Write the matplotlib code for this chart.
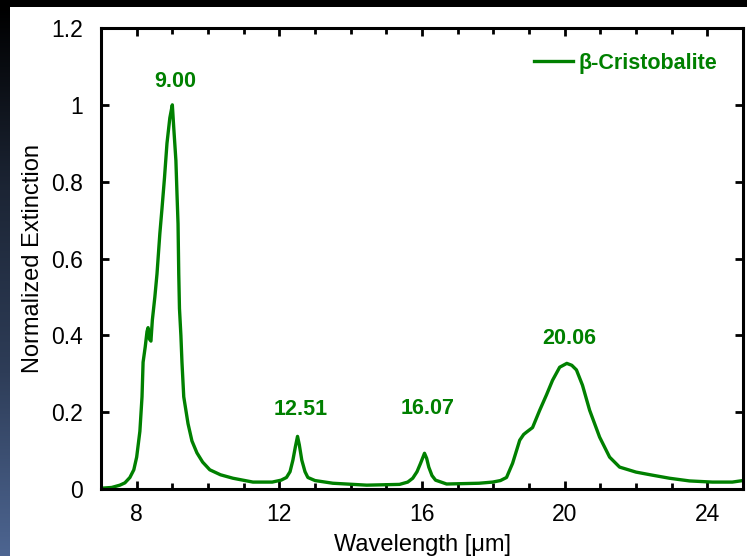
import numpy as np
import matplotlib.pyplot as plt
from matplotlib.colors import LinearSegmentedColormap
from matplotlib.patches import Rectangle

plt.rcParams['font.family'] = ['Liberation Sans', 'DejaVu Sans']

# Extinction spectrum of beta-cristobalite, normalized to the 9 um peak
wavelength = [7.0, 7.3, 7.53, 7.67, 7.81, 7.92, 8.0, 8.09, 8.15, 8.18, 8.24, 8.29,
              8.32, 8.36, 8.40, 8.44, 8.51, 8.57, 8.65, 8.71, 8.78, 8.85, 8.93, 9.00,
              9.04, 9.1, 9.13, 9.16, 9.18, 9.2, 9.24, 9.27, 9.32, 9.44, 9.55, 9.69,
              9.85, 10.05, 10.35, 10.7, 11.26, 11.8, 12.05, 12.2, 12.3, 12.38, 12.45,
              12.51, 12.56, 12.63, 12.72, 12.8, 13.0, 13.5, 14.45, 15.37, 15.6, 15.74,
              15.86, 15.96, 16.07, 16.13, 16.19, 16.28, 16.38, 16.69, 17.6, 17.98,
              18.2, 18.37, 18.54, 18.65, 18.74, 18.85, 18.93, 19.1, 19.3, 19.49, 19.66,
              19.86, 20.06, 20.2, 20.33, 20.5, 20.7, 20.98, 21.26, 21.54, 22.0, 22.46,
              22.94, 23.5, 24.14, 24.7, 25.0]
extinction = [0.002, 0.004, 0.01, 0.016, 0.03, 0.05, 0.083, 0.15, 0.24, 0.33, 0.37, 0.41,
              0.42, 0.39, 0.385, 0.44, 0.50, 0.56, 0.665, 0.73, 0.81, 0.90, 0.966, 1.0,
              0.94, 0.855, 0.77, 0.69, 0.56, 0.47, 0.40, 0.33, 0.24, 0.17, 0.125, 0.094,
              0.07, 0.05, 0.037, 0.028, 0.018, 0.018, 0.023, 0.03, 0.045, 0.075, 0.11,
              0.137, 0.115, 0.075, 0.045, 0.03, 0.022, 0.015, 0.01, 0.012, 0.018, 0.028,
              0.045, 0.067, 0.093, 0.08, 0.057, 0.035, 0.023, 0.013, 0.015, 0.018,
              0.022, 0.03, 0.067, 0.10, 0.127, 0.142, 0.148, 0.16, 0.205, 0.245, 0.283,
              0.317, 0.327, 0.322, 0.31, 0.27, 0.205, 0.135, 0.083, 0.057, 0.044, 0.036,
              0.028, 0.021, 0.018, 0.018, 0.022]

peak_positions = [9.00, 12.51, 16.07, 20.06]
peak_labels = ['9.00', '12.51', '16.07', '20.06']

green = '#008000'

fig = plt.figure(figsize=(7.47, 5.56), dpi=100, facecolor='black')

# dark border: blue gradient strip down the left edge, white page elsewhere
W, H = 747, 556
strip = fig.add_axes([0, 0, 10 / W, 1 - 7 / H])
grad = np.linspace(0, 1, 256).reshape(-1, 1)
cmap = LinearSegmentedColormap.from_list('edge', ['#000000', '#1c2535', '#2e3d58', '#4d6591'])
strip.imshow(grad, aspect='auto', cmap=cmap, extent=[0, 1, 0, 1])
strip.axis('off')
fig.patches.append(Rectangle((10 / W, 0), 1 - 10 / W, 1 - 7 / H, transform=fig.transFigure,
                             facecolor='white', edgecolor='none', zorder=-1))

ax = fig.add_axes([101 / W, 67 / H, 642 / W, 461 / H])
ax.plot(wavelength, extinction, color=green, lw=2.4, label='β-Cristobalite',
        solid_joinstyle='round')

# peak labels sit just above each maximum (16.07 a little higher)
offsets = {'9.00': 17, '12.51': 19, '16.07': 32, '20.06': 18}
for pos, lab in zip(peak_positions, peak_labels):
    h = np.interp(pos, wavelength, extinction)
    ax.annotate(lab, (pos, h), xytext=(2, offsets[lab]), textcoords='offset points',
                ha='center', va='center', fontsize=15.5, fontweight='bold', color=green)

ax.set_xlim(7, 25)
ax.set_ylim(0, 1.2)
ax.set_xticks([8, 12, 16, 20, 24])
ax.set_xticks(np.arange(7, 26, 1), minor=True)
ax.set_yticks([0, 0.2, 0.4, 0.6, 0.8, 1.0, 1.2])
ax.set_yticklabels(['0', '0.2', '0.4', '0.6', '0.8', '1', '1.2'])
ax.tick_params(which='both', direction='in', top=True, right=True, width=2,
               labelsize=16.5, colors='black')
ax.tick_params(axis='y', pad=13)
ax.tick_params(axis='x', pad=10)
ax.tick_params(which='major', length=6)
ax.tick_params(which='minor', length=4)
for s in ax.spines.values():
    s.set_linewidth(2.2)

ax.set_xlabel('Wavelength [μm]', fontsize=17, labelpad=6)
ax.set_ylabel('Normalized Extinction', fontsize=17, labelpad=5)

leg = ax.legend(loc='center right', bbox_to_anchor=(0.977, 0.924), frameon=False,
                handlelength=1.85, handletextpad=0.25, borderpad=0,
                prop={'weight': 'bold', 'size': 15.5})
for t in leg.get_texts():
    t.set_color(green)

fig.savefig('out.png', dpi=100, facecolor=fig.get_facecolor())
